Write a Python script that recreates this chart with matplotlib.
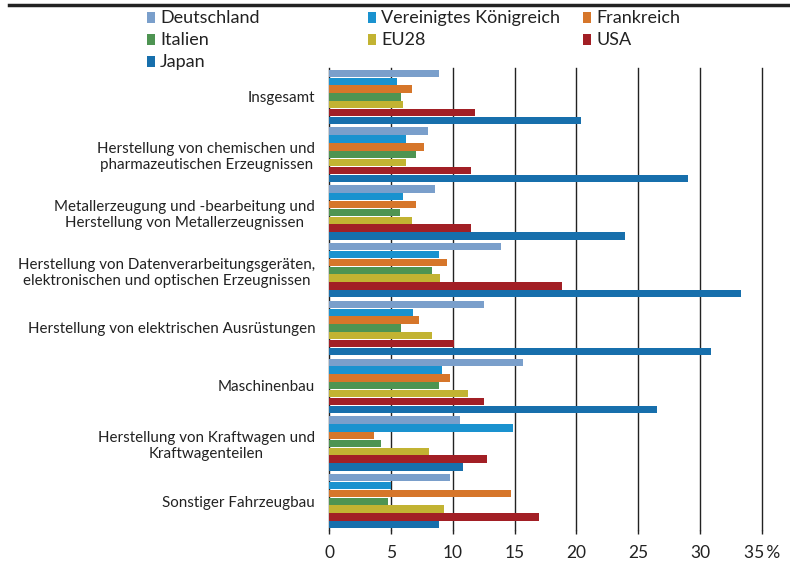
import matplotlib
matplotlib.use("Agg")
import matplotlib.pyplot as plt
import numpy as np
from matplotlib.lines import Line2D
from matplotlib.patches import Rectangle

plt.rcParams["font.family"] = ["Lato", "DejaVu Sans"]

INK = "#222222"

categories = [
    "Insgesamt",
    "Herstellung von chemischen und\npharmazeutischen Erzeugnissen",
    "Metallerzeugung und -bearbeitung und\nHerstellung von Metallerzeugnissen",
    "Herstellung von Datenverarbeitungsgeräten,\nelektronischen und optischen Erzeugnissen",
    "Herstellung von elektrischen Ausrüstungen",
    "Maschinenbau",
    "Herstellung von Kraftwagen und\nKraftwagenteilen",
    "Sonstiger Fahrzeugbau",
]
series_names = ["Deutschland", "Vereinigtes Königreich", "Frankreich",
                "Italien", "EU28", "USA", "Japan"]
colors = ["#7A9FCB", "#1A92CF", "#D6762A", "#4E9452", "#C2B332",
          "#A21F25", "#176FAC"]

deutschland = [8.9, 8.0, 8.6, 13.9, 12.55, 15.7, 10.6, 9.8]
vk = [5.5, 6.25, 6.0, 8.9, 6.8, 9.1, 14.9, 5.0]
frankreich = [6.7, 7.7, 7.05, 9.5, 7.3, 9.8, 3.65, 14.75]
italien = [5.8, 7.0, 5.7, 8.35, 5.8, 8.9, 4.2, 4.8]
eu28 = [6.0, 6.2, 6.7, 9.0, 8.35, 11.2, 8.1, 9.3]
usa = [11.8, 11.5, 11.5, 18.8, 10.1, 12.5, 12.8, 17.0]
japan = [20.4, 29.0, 23.9, 33.3, 30.9, 26.55, 10.85, 8.85]
series = [deutschland, vk, frankreich, italien, eu28, usa, japan]

xticks = [0, 5, 10, 15, 20, 25, 30, 35]
xticklabels = ["0", "5", "10", "15", "20", "25", "30", "35\u2009%"]

fig = plt.figure(figsize=(7.9, 5.67), dpi=100, facecolor="white")
ax = fig.add_axes([0.4165, 0.065, 0.548, 0.815])

n = len(series)
pitch = 0.95 / n
y = np.arange(len(categories))
for j, (vals, col) in enumerate(zip(series, colors)):
    ax.barh(y + (j - (n - 1) / 2) * pitch, vals, height=pitch * 0.94,
            color=col, linewidth=0, zorder=2)

ax.set_ylim(len(categories) - 0.5, -0.5)
ax.set_xlim(0, 35)
ax.set_xticks(xticks, xticklabels, fontsize=12.5, color=INK)
ax.set_yticks(y, categories, fontsize=10.9, color=INK)
for t in ax.get_yticklabels():
    t.set_multialignment("center")
ax.tick_params(axis="y", length=0, pad=10)
ax.tick_params(axis="x", length=3, width=1, color=INK, pad=8)
ax.grid(axis="x", color=INK, linewidth=1, clip_on=False)
ax.set_axisbelow(True)
for s in ax.spines.values():
    s.set_visible(False)

# top rule
fig.add_artist(Line2D([0.012, 1.0], [0.991, 0.991], color=INK, linewidth=2.5,
                      transform=fig.transFigure))

# legend, laid out as in the source (rows left to right)
leg_x = [147, 368, 583]
leg_y = [18, 40, 62]
W, H = 790, 567
for k, (name, col) in enumerate(zip(series_names, colors)):
    r, c = divmod(k, 3)
    x0, yc = leg_x[c], leg_y[r]
    fig.add_artist(Rectangle((x0 / W, 1 - (yc + 5) / H), 8 / W, 11 / H,
                             facecolor=col, edgecolor="none",
                             transform=fig.transFigure))
    fig.text((x0 + 13) / W, 1 - yc / H, name, fontsize=13, color=INK,
             ha="left", va="center")

fig.savefig("out.png", dpi=100, facecolor="white")
